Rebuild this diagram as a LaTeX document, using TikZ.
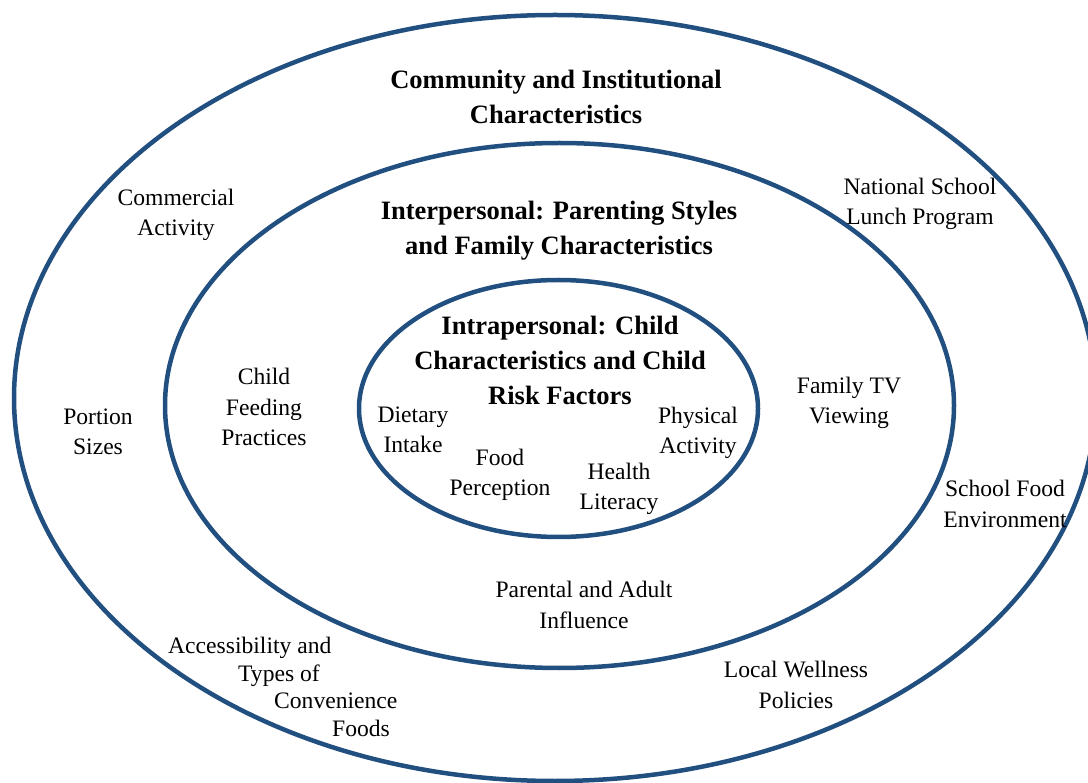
\documentclass[tikz,border=0pt]{standalone}
\usepackage{fontspec}
\setmainfont{Liberation Serif}
\definecolor{ringblue}{RGB}{33,79,128}
\tikzset{
  ring/.style={draw=ringblue, line width=4.5pt},
  item/.style={align=center, inner sep=0pt, font=\fontsize{23.6}{30.5}\selectfont},
  head/.style={align=center, inner sep=0pt, font=\fontsize{26.5}{35}\selectfont\bfseries},
}
\begin{document}
\begin{tikzpicture}[x=1pt, y=-1pt]
  \useasboundingbox (0,0) rectangle (1088,783);
  \clip (0,0) rectangle (1088,783);

  % three nested levels of influence
  \draw[ring] (555,398) ellipse [x radius=541pt, y radius=383pt];
  \draw[ring] (559.5,405.5) ellipse [x radius=394.5pt, y radius=262.5pt];
  \draw[ring] (558.5,408.5) ellipse [x radius=199.5pt, y radius=128.5pt];

  % level headings
  \node[head] (community) at (556,97) {Community and Institutional\\Characteristics};
  \node[head] (interpersonal) at (559,231) {Interpersonal: Parenting Styles\\and Family Characteristics};
  \node[head] (intrapersonal) at (560,360) {Intrapersonal: Child\\Characteristics and Child\\Risk Factors};

  % community and institutional factors
  \node[item] (commercial) at (176,215) {Commercial\\Activity};
  \node[item] (lunch) at (920,204) {National School\\Lunch Program};
  \node[item] (portion) at (98,432) {Portion\\Sizes};
  \node[item] (schoolfood) at (1005,504) {School Food\\Environment};
  \node[item] (wellness) at (796,685) {Local Wellness\\Policies};
  \node[item, align=left, anchor=north west,
        font=\fontsize{23.6}{27.7}\selectfont] (convenience) at (168,637)
    {Accessibility and\\\hspace*{70pt}Types of\\\hspace*{106pt}Convenience\\\hspace*{164pt}Foods};

  % interpersonal factors
  \node[item] (feeding) at (264,407) {Child\\Feeding\\Practices};
  \node[item] (familytv) at (849,403) {Family TV\\Viewing};
  \node[item] (parental) at (584,605) {Parental and Adult\\Influence};

  % intrapersonal factors
  \node[item] (dietary) at (413,430) {Dietary\\Intake};
  \node[item] (perception) at (500,475) {Food\\Perception};
  \node[item] (literacy) at (619,489) {Health\\Literacy};
  \node[item] (physical) at (698,433) {Physical\\Activity};
\end{tikzpicture}
\end{document}
